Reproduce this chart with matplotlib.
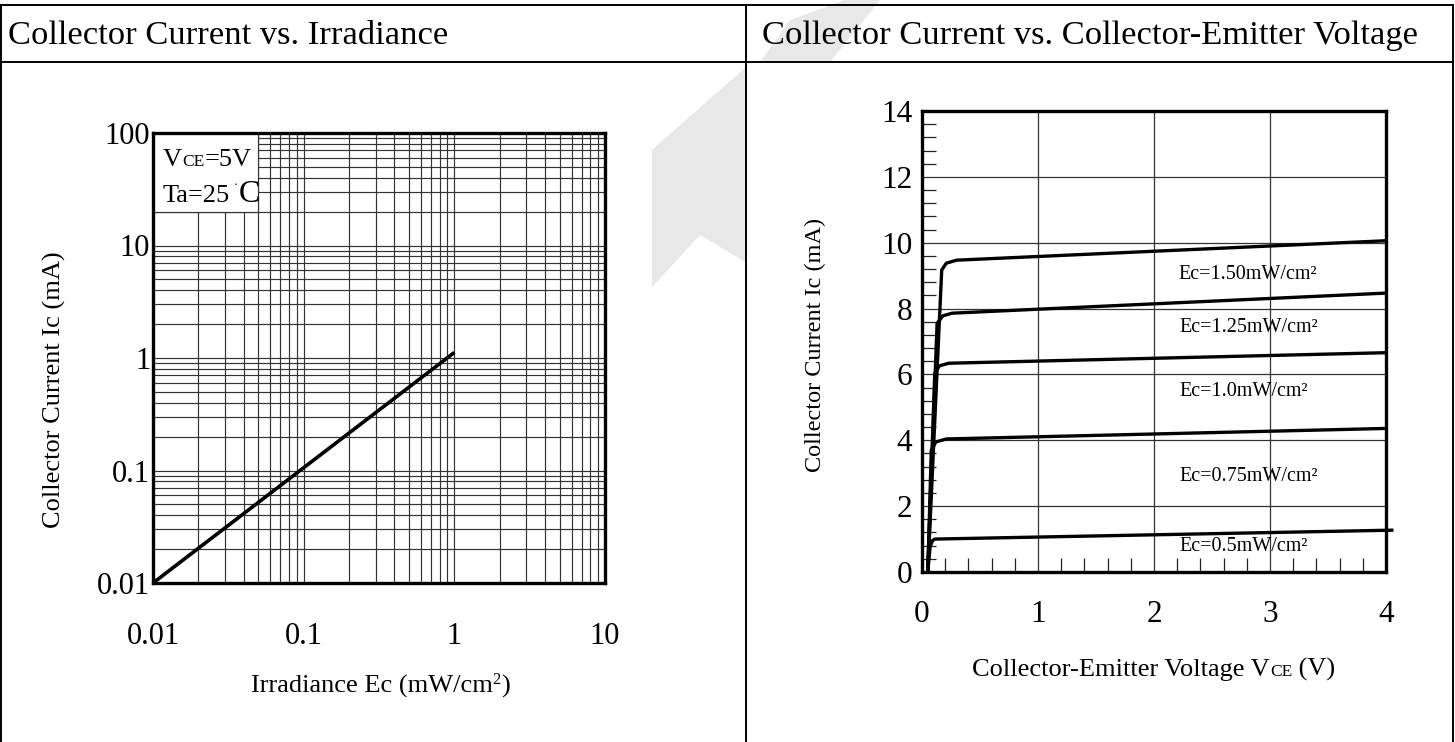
import matplotlib
matplotlib.use("Agg")
import matplotlib.pyplot as plt
from matplotlib.patches import Rectangle, Polygon
from matplotlib.lines import Line2D
from matplotlib.ticker import MultipleLocator, LogLocator, FixedLocator, NullFormatter

# ---------------- data ----------------
# Left chart: Collector current vs irradiance (log-log)
irr_ee = [0.01, 1.0]
irr_ic = [0.01, 1.12]
left_xticks = [0.01, 0.1, 1, 10]
left_xticklabels = ["0.01", "0.1", "1", "10"]
left_yticks = [0.01, 0.1, 1, 10, 100]
left_yticklabels = ["0.01", "0.1", "1", "10", "100"]

# Right chart: Ic vs VCE for several irradiances
vce_150 = [0.05, 0.17, 0.21, 0.30, 4.0]
ic_150 = [0.0, 9.17, 9.38, 9.47, 10.06]
vce_125 = [0.05, 0.13, 0.18, 0.26, 4.0]
ic_125 = [0.0, 7.55, 7.78, 7.86, 8.47]
vce_100 = [0.05, 0.11, 0.15, 0.23, 4.0]
ic_100 = [0.0, 6.04, 6.26, 6.34, 6.66]
vce_075 = [0.05, 0.08, 0.12, 0.21, 4.0]
ic_075 = [0.0, 3.70, 3.95, 4.04, 4.36]
vce_050 = [0.05, 0.07, 0.09, 0.11, 4.05]
ic_050 = [0.0, 0.77, 0.95, 1.00, 1.27]
curve_labels = ["Ec=1.50mW/cm²", "Ec=1.25mW/cm²", "Ec=1.0mW/cm²",
                "Ec=0.75mW/cm²", "Ec=0.5mW/cm²"]
label_x = [2.21, 2.22, 2.22, 2.22, 2.22]
label_y = [9.02, 7.41, 5.48, 2.90, 0.77]
right_xticks = [0, 1, 2, 3, 4]
right_yticks = [0, 2, 4, 6, 8, 10, 12, 14]

# ---------------- figure ----------------
W, H = 1455, 742
plt.rcParams['font.family'] = ['Liberation Serif', 'DejaVu Serif']
fig = plt.figure(figsize=(W / 100, H / 100), dpi=100)
fig.patch.set_facecolor('white')

def fx(px):
    return px / W

def fy(py):
    return 1 - py / H

# watermark (faint)
wm = '#e8e8e8'
fig.patches.append(Polygon([(fx(652), fy(287)), (fx(652), fy(150)), (fx(745), fy(68)),
                            (fx(745), fy(262)), (fx(700), fy(235))],
                           closed=True, transform=fig.transFigure, facecolor=wm,
                           edgecolor='none', zorder=0))
fig.patches.append(Polygon([(fx(760), fy(62)), (fx(790), fy(20)), (fx(845), fy(0)),
                            (fx(880), fy(0)), (fx(830), fy(62))],
                           closed=True, transform=fig.transFigure, facecolor=wm,
                           edgecolor='none', zorder=0))

# table borders
for (x0, y0, x1, y1) in [(1, 5, 1453, 5), (1, 62, 1453, 62), (1, 5, 1, 742),
                         (746, 5, 746, 742), (1453, 5, 1453, 742)]:
    fig.add_artist(Line2D([fx(x0), fx(x1)], [fy(y0), fy(y1)], color='black',
                          lw=1.4, transform=fig.transFigure))

fig.text(fx(8), fy(44), "Collector Current vs. Irradiance", fontsize=24.8,
         va='baseline', ha='left')
fig.text(fx(762), fy(44), "Collector Current vs. Collector-Emitter Voltage",
         fontsize=24.8, va='baseline', ha='left')

renderer = fig.canvas.get_renderer()

def rich(x_px, y_px, parts, ha='left'):
    """parts: list of (string, fontsize, dy_px). y_px is baseline (pixels from top)."""
    texts = []
    widths = []
    for s, size, dy in parts:
        t = fig.text(0, 0, s, fontsize=size, va='baseline', ha='left')
        widths.append(t.get_window_extent(renderer).width)
        texts.append((t, dy))
    total = sum(widths)
    x = x_px - (total / 2 if ha == 'center' else 0)
    for (t, dy), w in zip(texts, widths):
        t.set_position((fx(x), fy(y_px - dy)))
        x += w

# ---------------- left axes ----------------
L_l, L_r, L_t, L_b = 153, 605, 133, 583
axL = fig.add_axes([fx(L_l), fy(L_b), fx(L_r) - fx(L_l), fy(L_t) - fy(L_b)])
axL.set_xscale('log')
axL.set_yscale('log')
axL.set_xlim(0.01, 10)
axL.set_ylim(0.01, 100)
axL.set_axisbelow(True)
axL.xaxis.set_major_locator(FixedLocator(left_xticks))
axL.yaxis.set_major_locator(FixedLocator(left_yticks))
axL.set_xticklabels(left_xticklabels)
axL.set_yticklabels(left_yticklabels)
axL.xaxis.set_minor_locator(LogLocator(base=10, subs=range(2, 10)))
axL.yaxis.set_minor_locator(LogLocator(base=10, subs=range(2, 10)))
axL.xaxis.set_minor_formatter(NullFormatter())
axL.yaxis.set_minor_formatter(NullFormatter())
axL.grid(True, which='both', color='#333333', lw=0.85)
axL.tick_params(which='both', length=0)
axL.tick_params(axis='x', labelsize=22, pad=28)
axL.tick_params(axis='y', labelsize=22, pad=2)
for sp in axL.spines.values():
    sp.set_linewidth(2.4)
axL.add_patch(Rectangle((0.01, 20), 0.04, 80, facecolor='white', edgecolor='#333333',
                        lw=0.85, zorder=1))
axL.plot(irr_ee, irr_ic, color='black', lw=2.6, solid_capstyle='butt', zorder=3)
axL.set_ylabel("Collector Current Ic (mA)", fontsize=19)
axL.yaxis.set_label_coords((66 - L_l) / (L_r - L_l), (L_b - 390) / (L_b - L_t))
rich(380, 693, [("Irradiance Ec (mW/cm", 19, 0), ("2", 12, 9), (")", 19, 0)], ha='center')
rich(163, 166, [("V", 19, 0), ("CE", 12.5, 0), ("=5V", 19, 0)])
rich(163, 202, [("Ta=25", 19, 0), (" ˙", 10, 9), ("C", 23, 0)])

# ---------------- right axes ----------------
R_l, R_r, R_t, R_b = 922, 1386, 111, 572
axR = fig.add_axes([fx(R_l), fy(R_b), fx(R_r) - fx(R_l), fy(R_t) - fy(R_b)])
axR.set_xlim(0, 4)
axR.set_ylim(0, 14)
axR.set_axisbelow(True)
axR.xaxis.set_major_locator(FixedLocator(right_xticks))
axR.yaxis.set_major_locator(FixedLocator(right_yticks))
axR.xaxis.set_minor_locator(MultipleLocator(0.2))
axR.yaxis.set_minor_locator(MultipleLocator(0.4))
axR.grid(True, which='major', color='#333333', lw=0.9)
axR.tick_params(which='major', length=0)
axR.tick_params(which='minor', direction='in', length=10, width=0.9, color='#222222')
axR.tick_params(axis='x', labelsize=22.5, pad=20)
axR.tick_params(axis='y', labelsize=22.5, pad=7)
for sp in axR.spines.values():
    sp.set_linewidth(2.4)
series = [(vce_150, ic_150), (vce_125, ic_125), (vce_100, ic_100),
          (vce_075, ic_075), (vce_050, ic_050)]
for (vx, vy) in series:
    axR.plot(vx, vy, color='black', lw=2.4, solid_joinstyle='round', clip_on=False, zorder=3)
for s, lx, ly in zip(curve_labels, label_x, label_y):
    axR.text(lx, ly, s, fontsize=14.5, va='center', ha='left')
axR.set_ylabel("Collector Current Ic (mA)", fontsize=17.5)
axR.yaxis.set_label_coords((826 - R_l) / (R_r - R_l), (R_b - 345) / (R_b - R_t))
rich(1154, 676, [("Collector-Emitter Voltage V", 19, 0), ("CE", 12.5, 0), (" (V)", 19, 0)],
     ha='center')

fig.savefig("out.png", dpi=100, facecolor='white')
